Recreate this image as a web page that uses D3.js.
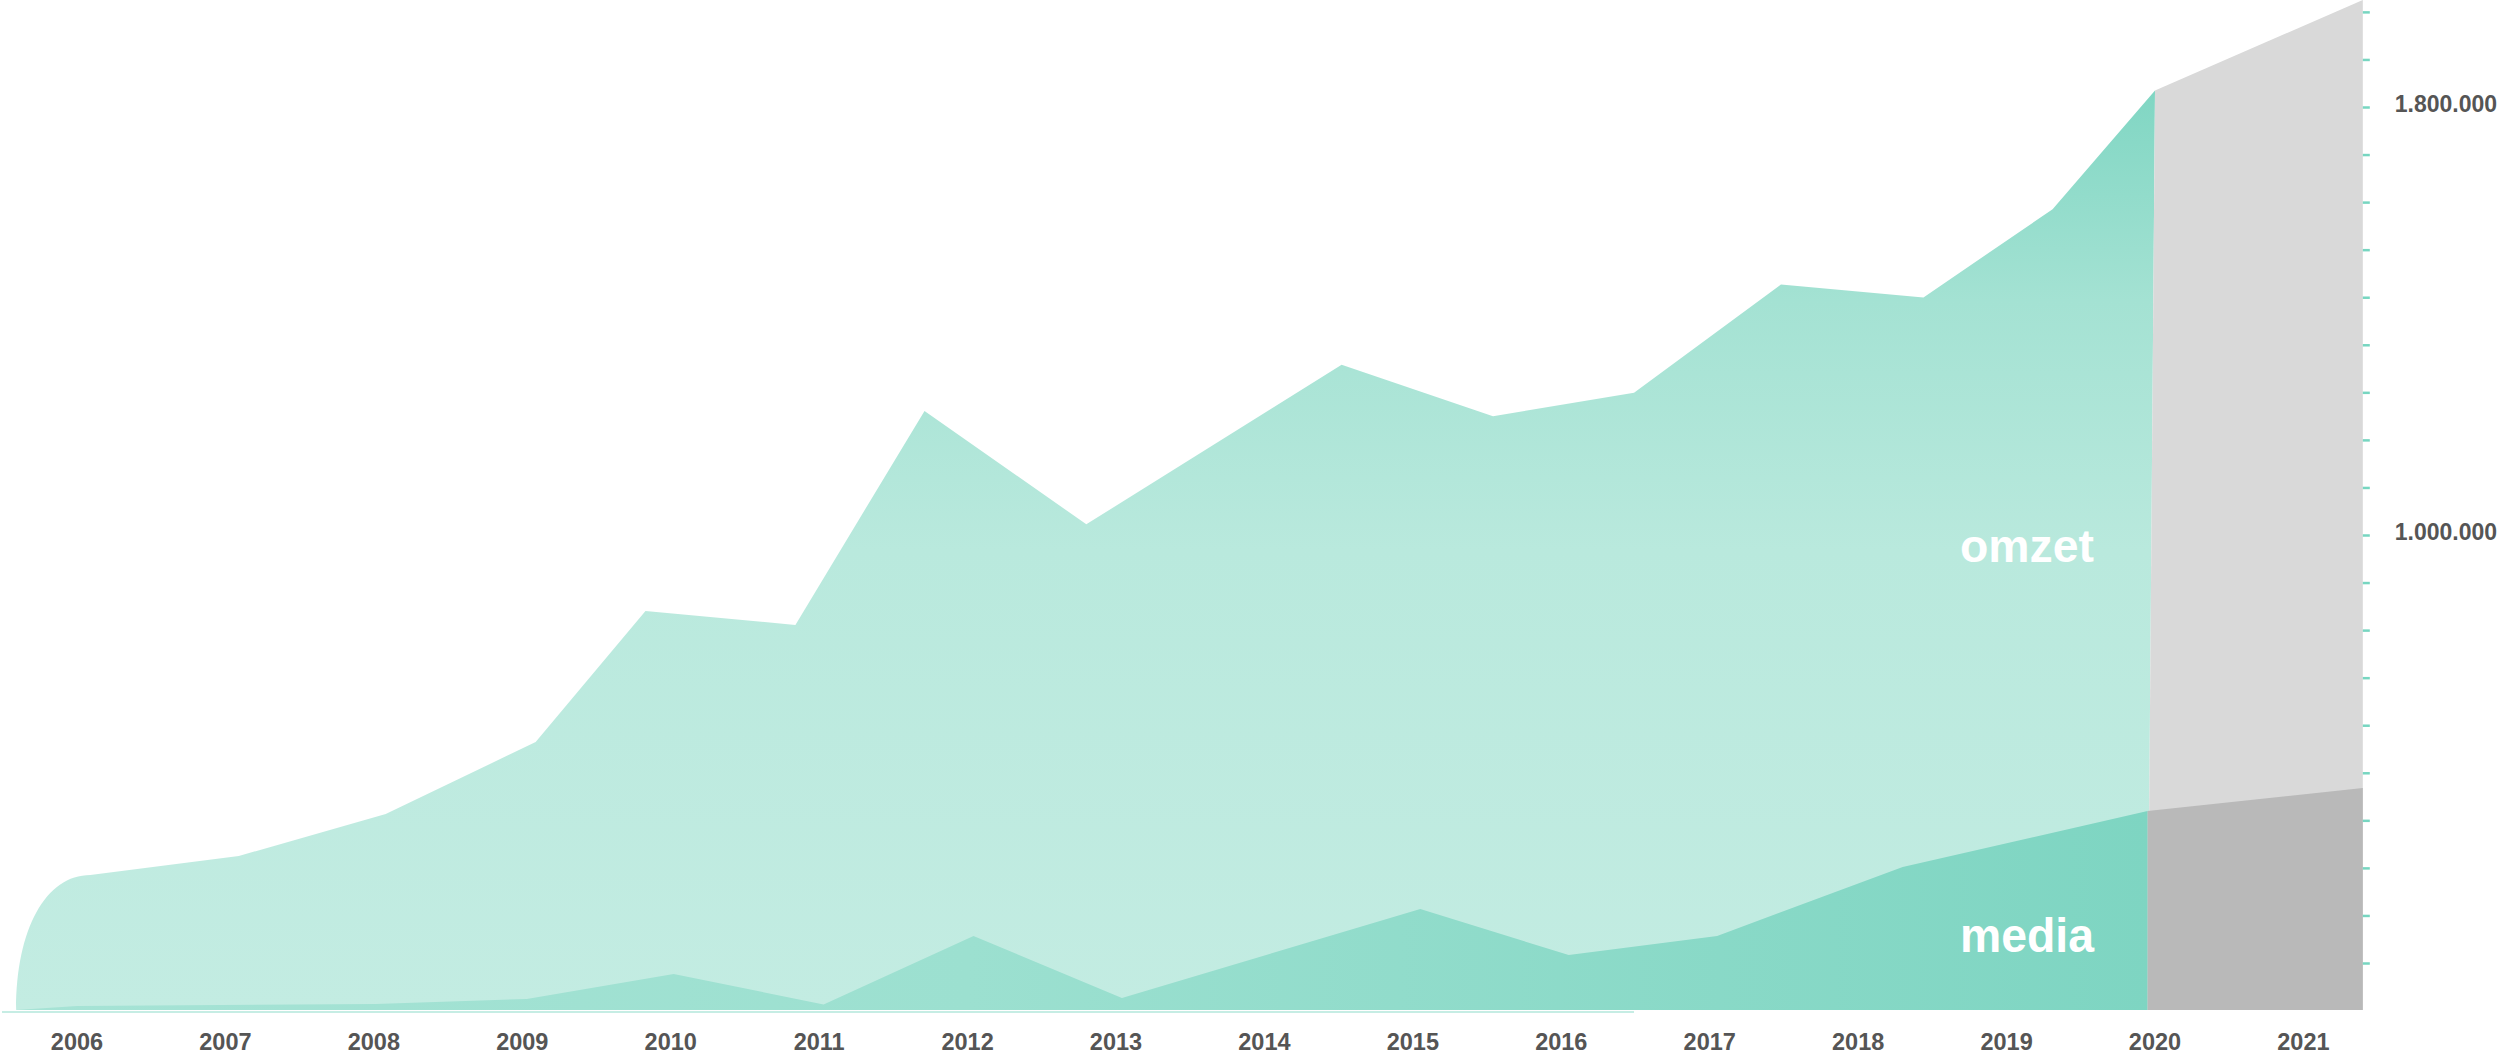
<!DOCTYPE html>
<html>
<head>
<meta charset="utf-8">
<script src="https://cdn.jsdelivr.net/npm/d3@7"></script>
<style>
  html, body { margin: 0; padding: 0; background: #ffffff; }
  svg { display: block; }
  text { font-family: "Liberation Sans", Arial, Helvetica, sans-serif; }
</style>
</head>
<body>
<svg id="chart" width="2500" height="1062"></svg>
<script>
// ---------------- data ----------------
const yearLabels = [2006, 2007, 2008, 2009, 2010, 2011, 2012, 2013, 2014, 2015, 2016, 2017, 2018, 2019, 2020, 2021];

// omzet (turnover): position on the time axis (fractional years) and value
const omzetPeriod = [2006.09, 2007.09, 2008.08, 2009.09, 2009.83, 2010.84, 2011.71, 2012.80, 2014.52, 2015.54, 2016.49, 2017.48, 2018.44, 2019.31, 2020.00];
const omzetValues = [364500, 400000, 478500, 613000, 858000, 832000, 1232000, 1020000, 1318000, 1222000, 1266000, 1468000, 1444000, 1609000, 1831000];

// media
const mediaPeriod = [2006.00, 2008.01, 2009.03, 2010.02, 2011.03, 2012.04, 2013.04, 2015.05, 2016.05, 2017.05, 2018.30, 2019.95];
const mediaValues = [119600, 123400, 132700, 179500, 122400, 250500, 134600, 300900, 214900, 250500, 379400, 484100];

// start of both series and the 2021 projection (grey)
const seriesStart = 2005.59;
const omzetEndBase = 2019.95;
const projectionPeriod = 2021.40;
const omzetProjection = 2000000;
const mediaProjection = 527000;

// value axis
const axisMin = 112150;
const axisMax = 2000000;
const axisLabelValues = [1000000, 1800000];
const tickStep = (1800000 - 1000000) / 9;
const tickCountBelow = 9, tickCountAbove = 11;

const seriesLabels = ["omzet", "media"];

// ---------------- layout ----------------
const W = 2500, H = 1062;
const plotTop = 0, plotBottom = 1010;

const svg = d3.select("#chart");

const x = d3.scaleLinear().domain([2006, 2020]).range([77, 2155]);
const y = d3.scaleLinear().domain([axisMin, axisMax]).range([plotBottom, plotTop]);

// gradients
const defs = svg.append("defs");
const gO = defs.append("linearGradient").attr("id", "gOmzet")
  .attr("gradientUnits", "userSpaceOnUse").attr("x1", 0).attr("x2", 0).attr("y1", 90).attr("y2", 1010);
[[0, "#80d6c3"], [0.23, "#a4e2d3"], [0.5, "#b9e9dd"], [1, "#c3ece2"]].forEach(s =>
  gO.append("stop").attr("offset", s[0]).attr("stop-color", s[1]));
const gM = defs.append("linearGradient").attr("id", "gMedia")
  .attr("gradientUnits", "userSpaceOnUse").attr("x1", 0).attr("x2", 2150).attr("y1", 0).attr("y2", 0);
[[0, "#a6e3d5"], [0.45, "#9ce0d0"], [1, "#7ed5c2"]].forEach(s =>
  gM.append("stop").attr("offset", s[0]).attr("stop-color", s[1]));

// ---------------- omzet area ----------------
const omzetPts = omzetPeriod.map((p, i) => [x(p), y(omzetValues[i])]);
const base = y(axisMin);
const k = 0.6;
const op = d3.path();
const xs = x(seriesStart);
op.moveTo(xs, base);
op.bezierCurveTo(xs, base - k * (base - omzetPts[0][1]),
                 omzetPts[0][0] - k * (omzetPts[0][0] - xs), omzetPts[0][1],
                 omzetPts[0][0], omzetPts[0][1]);
omzetPts.slice(1).forEach(pt => op.lineTo(pt[0], pt[1]));
op.lineTo(x(omzetEndBase), base);
op.closePath();
svg.append("path").attr("d", op.toString()).attr("fill", "url(#gOmzet)");

// omzet projection (grey)
const lastO = omzetPts[omzetPts.length - 1];
const line = d3.line();
svg.append("path")
  .attr("d", line([[x(omzetEndBase), base], lastO, [x(projectionPeriod), y(omzetProjection)], [x(projectionPeriod), base]]) + "Z")
  .attr("fill", "#d9d9d9");

// ---------------- media area ----------------
const mediaData = [[seriesStart, axisMin]].concat(mediaPeriod.map((p, i) => [p, mediaValues[i]]));
const area = d3.area().x(d => x(d[0])).y0(base).y1(d => y(d[1]));
svg.append("path").attr("d", area(mediaData)).attr("fill", "url(#gMedia)");

// media projection (grey)
svg.append("path")
  .attr("d", area([[mediaPeriod[mediaPeriod.length - 1], mediaValues[mediaValues.length - 1]], [projectionPeriod, mediaProjection]]))
  .attr("fill", "#b9b9b9");

// faint baseline
svg.append("line")
  .attr("x1", 2).attr("x2", x(omzetPeriod[10]))
  .attr("y1", base + 2).attr("y2", base + 2)
  .attr("stroke", "#c6ede4").attr("stroke-width", 2);

// ---------------- value axis (right) ----------------
const tickValues = d3.range(-tickCountBelow, tickCountAbove + 1).map(i => 1000000 + i * tickStep);
const axisX = x(projectionPeriod);
const axis = d3.axisRight(y).tickValues(tickValues).tickSize(7).tickFormat("");
const gAxis = svg.append("g").attr("transform", `translate(${axisX},0)`).call(axis);
gAxis.select(".domain").remove();
gAxis.selectAll(".tick line").attr("stroke", "#77d6c1").attr("stroke-width", 2.5);

const nl = d3.formatLocale({ decimal: ",", thousands: ".", grouping: [3], currency: ["€", ""] });
const fmt = nl.format(",d");
svg.append("g").selectAll("text").data(axisLabelValues).join("text")
  .attr("x", axisX + 32)
  .attr("y", d => y(d) + 5)
  .attr("font-size", 23)
  .attr("font-weight", "bold")
  .attr("fill", "#555555")
  .text(d => fmt(d));

// ---------------- year axis ----------------
svg.append("g").selectAll("text").data(yearLabels).join("text")
  .attr("x", d => x(d))
  .attr("y", 1050)
  .attr("text-anchor", "middle")
  .attr("font-size", 23.5)
  .attr("font-weight", "bold")
  .attr("fill", "#555555")
  .text(d => d);

// ---------------- series labels ----------------
const labelRight = x(2020) - 61;
svg.append("text")
  .attr("x", labelRight - 134).attr("y", 562)
  .attr("font-size", 46).attr("font-weight", "bold").attr("fill", "#ffffff")
  .attr("textLength", 134).attr("lengthAdjust", "spacingAndGlyphs")
  .text(seriesLabels[0]);
svg.append("text")
  .attr("x", labelRight - 134).attr("y", 952)
  .attr("font-size", 48).attr("font-weight", "bold").attr("fill", "#ffffff")
  .attr("textLength", 134).attr("lengthAdjust", "spacingAndGlyphs")
  .text(seriesLabels[1]);
</script>
</body>
</html>
